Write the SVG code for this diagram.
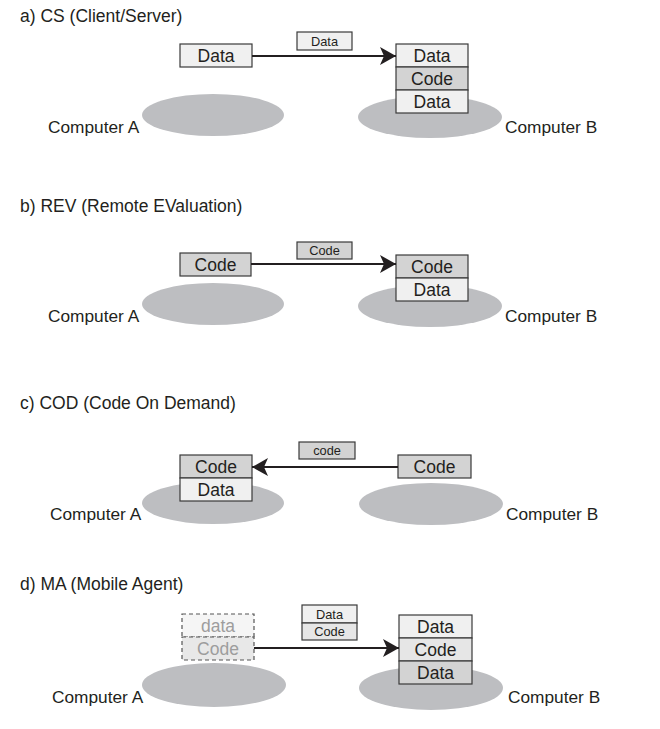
<svg xmlns="http://www.w3.org/2000/svg" width="660" height="729" viewBox="0 0 660 729">
<style>
text{font-family:"Liberation Sans",Arial,sans-serif;fill:#231f20}
.t{font-size:17.5px}
.lbl{font-size:17.3px}
.bx{font-size:17.5px;text-anchor:middle}
.sm{font-size:12.8px;text-anchor:middle}
.ghost{fill:#9d9d9d}
.host{fill:#bdbec1}
.l{fill:#f0f0f0;stroke:#3a3a3a;stroke-width:1.2}
.m{fill:#e6e6e6;stroke:#3a3a3a;stroke-width:1.2}
.g{fill:#d3d3d3;stroke:#3a3a3a;stroke-width:1.2}
.dl{fill:#f5f5f5;stroke:#555;stroke-width:1.2;stroke-dasharray:4 3}
.dm{fill:#e8e8e8;stroke:#555;stroke-width:1.2;stroke-dasharray:4 3}
.c{stroke:#231f20;stroke-width:1.8;fill:none;marker-end:url(#ah)}
</style>
<defs>
<marker id="ah" markerUnits="userSpaceOnUse" markerWidth="18" markerHeight="20" refX="16" refY="9" orient="auto">
<path d="M0,0 L16,9 L0,18 L4,9 Z" fill="#231f20"/>
</marker>
</defs>

<!-- titles -->
<text class="t" x="20" y="22">a) CS (Client/Server)</text>
<text class="t" x="20" y="212">b) REV (Remote EValuation)</text>
<text class="t" x="20" y="409">c) COD (Code On Demand)</text>
<text class="t" x="20" y="590">d) MA (Mobile Agent)</text>

<!-- a) -->
<g id="a-computerA">
<ellipse class="host" cx="213" cy="115" rx="71" ry="21"/>
<text class="lbl" x="48" y="133">Computer A</text>
</g>
<g id="a-computerB">
<ellipse class="host" cx="430" cy="117" rx="72" ry="21"/>
<text class="lbl" x="505" y="133">Computer B</text>
</g>
<g id="a-dataA">
<rect class="l" x="180" y="44" width="72" height="23"/>
<text class="bx" x="216" y="62">Data</text>
</g>
<g id="a-msg">
<rect class="l" x="297" y="32" width="55" height="18"/>
<text class="sm" x="324.5" y="46">Data</text>
</g>
<g id="a-stackB">
<rect class="l" x="396" y="44" width="72" height="23"/>
<text class="bx" x="432" y="62">Data</text>
<rect class="g" x="396" y="67" width="72" height="23"/>
<text class="bx" x="432" y="85">Code</text>
<rect class="l" x="396" y="90" width="72" height="23"/>
<text class="bx" x="432" y="108">Data</text>
</g>

<!-- b) -->
<g id="b-computerA">
<ellipse class="host" cx="213" cy="304" rx="71" ry="21"/>
<text class="lbl" x="48" y="322">Computer A</text>
</g>
<g id="b-computerB">
<ellipse class="host" cx="430" cy="306" rx="72" ry="21"/>
<text class="lbl" x="505" y="322">Computer B</text>
</g>
<g id="b-codeA">
<rect class="g" x="180" y="253" width="71" height="23"/>
<text class="bx" x="215.5" y="271">Code</text>
</g>
<g id="b-msg">
<rect class="g" x="297" y="242" width="55" height="17"/>
<text class="sm" x="324.5" y="255">Code</text>
</g>
<g id="b-stackB">
<rect class="g" x="396" y="255" width="72" height="23"/>
<text class="bx" x="432" y="273">Code</text>
<rect class="l" x="396" y="278" width="72" height="23"/>
<text class="bx" x="432" y="296">Data</text>
</g>

<!-- c) -->
<g id="c-computerA">
<ellipse class="host" cx="213" cy="503" rx="71" ry="21"/>
<text class="lbl" x="50" y="520">Computer A</text>
</g>
<g id="c-computerB">
<ellipse class="host" cx="431" cy="504" rx="72" ry="21"/>
<text class="lbl" x="506" y="520">Computer B</text>
</g>
<g id="c-stackA">
<rect class="g" x="180" y="455" width="72" height="23"/>
<text class="bx" x="216" y="473">Code</text>
<rect class="l" x="180" y="478" width="72" height="23"/>
<text class="bx" x="216" y="496">Data</text>
</g>
<g id="c-msg">
<rect class="g" x="299" y="442" width="56" height="17"/>
<text class="sm" x="327" y="455">code</text>
</g>
<g id="c-codeB">
<rect class="g" x="398" y="455" width="73" height="23"/>
<text class="bx" x="434.5" y="473">Code</text>
</g>

<!-- d) -->
<g id="d-computerA">
<ellipse class="host" cx="214" cy="685" rx="72" ry="22"/>
<text class="lbl" x="52" y="703">Computer A</text>
</g>
<g id="d-computerB">
<ellipse class="host" cx="431" cy="688" rx="72" ry="22"/>
<text class="lbl" x="508" y="703">Computer B</text>
</g>
<g id="d-ghostA">
<rect class="dl" x="182" y="614" width="72" height="23"/>
<text class="bx ghost" x="218" y="632">data</text>
<rect class="dm" x="182" y="637" width="72" height="23"/>
<text class="bx ghost" x="218" y="655">Code</text>
</g>
<g id="d-msg">
<rect class="l" x="302" y="605" width="55" height="18"/>
<text class="sm" x="329.5" y="619">Data</text>
<rect class="m" x="302" y="623" width="55" height="17"/>
<text class="sm" x="329.5" y="636">Code</text>
</g>
<g id="d-stackB">
<rect class="l" x="399" y="615" width="73" height="23"/>
<text class="bx" x="435.5" y="633">Data</text>
<rect class="m" x="399" y="638" width="73" height="23"/>
<text class="bx" x="435.5" y="656">Code</text>
<rect class="g" x="399" y="661" width="73" height="23"/>
<text class="bx" x="435.5" y="679">Data</text>
</g>

<!-- connectors -->
<g id="connectors">
<line class="c" x1="252" y1="56" x2="396" y2="56"/>
<line class="c" x1="251" y1="264" x2="396" y2="264"/>
<line class="c" x1="398" y1="467" x2="252" y2="467"/>
<line class="c" x1="254" y1="648" x2="399" y2="648"/>
</g>
</svg>
